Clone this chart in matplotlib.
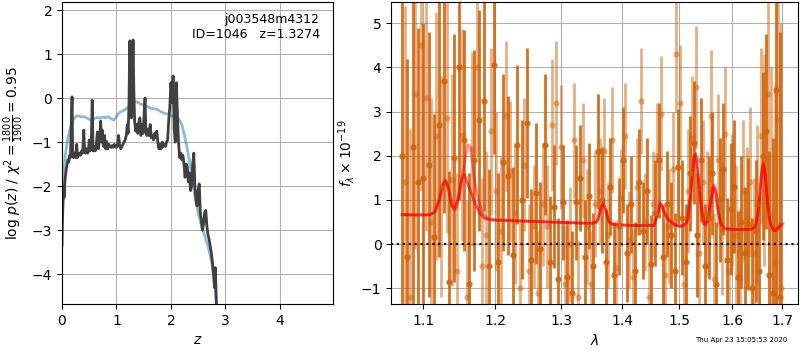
import matplotlib
matplotlib.use("Agg")
import matplotlib.pyplot as plt
from matplotlib.ticker import NullLocator

# --- redshift PDF (left panel) ---
z_pdf = [
    0.000, 0.010, 0.020, 0.030, 0.040, 0.050, 0.065, 0.080, 0.095, 0.110,
    0.125, 0.140, 0.155, 0.170, 0.185, 0.195, 0.210, 0.230, 0.250, 0.270,
    0.285, 0.300, 0.320, 0.340, 0.360, 0.380, 0.400, 0.415, 0.430, 0.450,
    0.470, 0.485, 0.500, 0.515, 0.535, 0.555, 0.570, 0.590, 0.610, 0.630,
    0.650, 0.670, 0.690, 0.710, 0.725, 0.740, 0.760, 0.780, 0.800, 0.820,
    0.840, 0.860, 0.880, 0.900, 0.920, 0.940, 0.960, 0.980, 1.000, 1.020,
    1.040, 1.060, 1.080, 1.100, 1.120, 1.140, 1.160, 1.180, 1.200, 1.215,
    1.230, 1.245, 1.260, 1.275, 1.290, 1.305, 1.320, 1.335, 1.355, 1.375,
    1.390, 1.410, 1.430, 1.450, 1.470, 1.490, 1.510, 1.525, 1.540, 1.560,
    1.580, 1.600, 1.620, 1.640, 1.660, 1.680, 1.700, 1.720, 1.740, 1.760,
    1.780, 1.800, 1.820, 1.840, 1.860, 1.880, 1.900, 1.920, 1.940, 1.960,
    1.980, 2.000, 2.020, 2.040, 2.060, 2.080, 2.100, 2.120, 2.140, 2.160,
    2.180, 2.200, 2.220, 2.240, 2.260, 2.280, 2.300, 2.320, 2.340, 2.360,
    2.380, 2.400, 2.420, 2.440, 2.460, 2.480, 2.500, 2.520, 2.540, 2.560,
    2.580, 2.600, 2.620, 2.640, 2.660, 2.680, 2.700, 2.720, 2.740, 2.760,
    2.780, 2.800, 2.815, 2.830, 2.850,
]
logp = [
    -3.35, -2.70, -2.35, -2.00, -2.25, -1.95, -1.75, -1.60, -1.50, -1.40,
    -1.45, -1.30, -1.35, -0.60, 0.03, -1.20, -1.35, -1.25, -1.35, -1.05,
    -1.35, -1.30, -1.25, -1.30, -1.20, -1.25, -0.73, -1.20, -1.25, -1.15,
    -1.25, -1.20, -0.95, -1.20, -1.15, -0.05, -1.20, -1.10, -1.20, -1.05,
    -0.77, -1.15, -0.90, -0.52, -1.00, -0.73, -1.10, -0.85, -1.15, -0.99,
    -1.15, -1.05, -1.10, -1.12, -1.08, -1.12, -1.05, -1.10, -1.12, -1.05,
    -0.85, -1.10, -1.15, -1.10, -1.05, -1.00, -0.95, -0.85, -0.60, -0.80,
    -0.10, 1.30, 0.20, -0.45, 0.30, 1.32, 0.10, -0.55, -0.75, -0.60,
    -0.80, -0.55, -0.45, -0.85, -0.60, -0.80, -0.30, 0.00, -0.75, -0.85,
    -0.70, -0.85, -0.60, -0.90, -0.85, -0.95, -0.80, -0.90, -0.75, -1.00,
    -1.15, -1.05, -1.15, -1.00, -1.10, -1.05, -1.10, -1.00, -0.95, -0.50,
    -0.20, 0.35, -0.10, 0.50, -0.70, -1.00, 0.35, -0.40, -1.00, -1.35,
    -1.25, -1.40, -1.30, -1.50, -1.80, -1.50, -1.55, -1.90, -1.70, -2.10,
    -2.00, -1.50, -1.25, -2.00, -2.30, -2.45, -2.10, -1.95, -2.60, -2.80,
    -3.00, -2.85, -2.60, -2.55, -2.90, -3.10, -3.20, -3.35, -3.50, -3.70,
    -3.95, -4.30, -3.85, -4.40, -5.20,
]
z_prior = [
    0.00, 0.03, 0.06, 0.10, 0.15, 0.20, 0.25, 0.30, 0.35, 0.40,
    0.45, 0.50, 0.55, 0.60, 0.65, 0.70, 0.75, 0.80, 0.85, 0.90,
    0.95, 1.00, 1.05, 1.10, 1.15, 1.20, 1.25, 1.30, 1.35, 1.40,
    1.45, 1.50, 1.55, 1.60, 1.65, 1.70, 1.75, 1.80, 1.85, 1.90,
    1.95, 2.00, 2.05, 2.10, 2.15, 2.20, 2.25, 2.30, 2.35, 2.40,
    2.45, 2.50, 2.55, 2.60, 2.65, 2.70, 2.75, 2.80, 2.85,
]
logp_prior = [
    -2.10, -1.70, -1.30, -0.95, -0.70, -0.50, -0.42, -0.40, -0.43, -0.42,
    -0.45, -0.48, -0.52, -0.46, -0.44, -0.45, -0.43, -0.45, -0.42, -0.47,
    -0.50, -0.42, -0.33, -0.30, -0.27, -0.22, -0.18, -0.10, -0.08, -0.10,
    -0.14, -0.16, -0.18, -0.21, -0.24, -0.24, -0.26, -0.30, -0.33, -0.35,
    -0.37, -0.40, -0.42, -0.45, -0.48, -0.60, -0.85, -1.15, -1.50, -1.90,
    -2.30, -2.60, -2.85, -3.05, -3.25, -3.45, -3.75, -4.20, -4.90,
]

# --- spectrum (right panel), two sets of extractions ---
wave_a = [
    1.072, 1.079, 1.086, 1.093, 1.100, 1.107, 1.114, 1.121, 1.128, 1.135,
    1.142, 1.149, 1.156, 1.163, 1.170, 1.177, 1.184, 1.191, 1.198, 1.205,
    1.212, 1.219, 1.226, 1.233, 1.240, 1.247, 1.254, 1.261, 1.268, 1.275,
    1.282, 1.289, 1.296, 1.303, 1.310, 1.317, 1.324, 1.331, 1.338, 1.345,
    1.352, 1.359, 1.366, 1.373, 1.380, 1.387, 1.394, 1.401, 1.408, 1.415,
    1.422, 1.429, 1.436, 1.443, 1.450, 1.457, 1.464, 1.471, 1.478, 1.485,
    1.492, 1.499, 1.506, 1.513, 1.520, 1.527, 1.534, 1.541, 1.548, 1.555,
    1.562, 1.569, 1.576, 1.583, 1.590, 1.597, 1.604, 1.611, 1.618, 1.625,
    1.632, 1.639, 1.646, 1.653, 1.660, 1.667, 1.674, 1.681, 1.688, 1.695,
]
flux_a = [
    2.00, -0.30, 2.20, 1.40, 1.50, 1.80, 0.15, 2.70, 3.70, -0.85,
    1.95, 4.00, 2.35, -0.90, 1.90, 2.80, 3.25, -0.50, 4.05, -0.40,
    1.85, 1.55, -0.25, 2.25, 1.00, 2.75, -0.35, 1.15, -0.10, 2.25,
    -0.40, 0.85, -0.80, 0.95, -0.75, -1.10, 0.95, 1.50, -0.30, 1.10,
    -0.50, 2.10, 1.00, -0.40, 1.30, -0.70, 0.40, 1.90, -0.20, 0.90,
    -0.60, 1.40, 0.30, 1.20, -0.45, 0.70, 1.90, -0.30, 0.90, 0.20,
    -0.60, 1.75, 0.60, -0.40, 1.60, 2.30, 0.20, 1.90, -0.50, 0.60,
    1.60, -0.90, 1.00, 1.70, -0.35, 0.80, 1.30, -0.75, 0.50, -0.20,
    0.45, -1.00, 0.30, -0.60, 2.00, 2.55, -0.70, -1.10, 3.50, -1.20,
]
err_a = [
    5.0, 4.5, 4.0, 3.5, 3.5, 3.0, 2.8, 3.0, 3.0, 2.5,
    2.8, 3.0, 2.5, 2.5, 2.5, 2.5, 2.5, 2.2, 2.0, 2.0,
    2.0, 1.8, 2.0, 1.8, 1.8, 1.7, 1.6, 1.6, 1.5, 1.6,
    1.5, 1.4, 1.4, 1.3, 1.3, 1.4, 1.3, 1.2, 1.3, 1.2,
    1.2, 1.3, 1.2, 1.2, 1.1, 1.2, 1.1, 1.2, 1.1, 1.1,
    1.1, 1.2, 1.1, 1.2, 1.1, 1.2, 1.3, 1.2, 1.2, 1.2,
    1.3, 1.3, 1.3, 1.3, 1.3, 1.4, 1.4, 1.4, 1.4, 1.4,
    1.4, 1.4, 1.4, 1.5, 1.4, 1.5, 1.5, 1.5, 1.5, 1.5,
    1.5, 1.6, 1.6, 1.7, 1.9, 2.2, 2.8, 3.5, 5.0, 6.0,
]
wave_b = [
    1.0755, 1.0825, 1.0895, 1.0965, 1.1035, 1.1105, 1.1175, 1.1245, 1.1315, 1.1385,
    1.1455, 1.1525, 1.1595, 1.1665, 1.1735, 1.1805, 1.1875, 1.1945, 1.2015, 1.2085,
    1.2155, 1.2225, 1.2295, 1.2365, 1.2435, 1.2505, 1.2575, 1.2645, 1.2715, 1.2785,
    1.2855, 1.2925, 1.2995, 1.3065, 1.3135, 1.3205, 1.3275, 1.3345, 1.3415, 1.3485,
    1.3555, 1.3625, 1.3695, 1.3765, 1.3835, 1.3905, 1.3975, 1.4045, 1.4115, 1.4185,
    1.4255, 1.4325, 1.4395, 1.4465, 1.4535, 1.4605, 1.4675, 1.4745, 1.4815, 1.4885,
    1.4955, 1.5025, 1.5095, 1.5165, 1.5235, 1.5305, 1.5375, 1.5445, 1.5515, 1.5585,
    1.5655, 1.5725, 1.5795, 1.5865, 1.5935, 1.6005, 1.6075, 1.6145, 1.6215, 1.6285,
    1.6355, 1.6425, 1.6495, 1.6565, 1.6635, 1.6705, 1.6775, 1.6845, 1.6915, 1.6985,
]
flux_b = [
    1.40, -1.20, 3.40, 4.50, 3.30, 0.50, 2.45, 1.30, 2.85, 1.45,
    -0.60, 2.48, -1.20, 2.15, 4.00, -0.50, 0.20, 2.55, 1.20, 0.30,
    2.90, 1.65, 0.70, -1.00, 1.80, -0.60, 0.40, -1.10, 0.90, 0.40,
    2.70, 3.20, 2.20, -0.90, 0.00, 2.35, -1.20, 1.90, 0.40, -0.90,
    0.90, 1.20, 2.10, 0.20, 2.35, -0.55, 1.05, 2.45, 0.10, -0.75,
    1.30, 3.25, 0.50, -1.20, 0.90, 2.00, 2.95, -0.70, 0.40, 1.70,
    4.30, 3.20, -0.90, 1.20, 2.40, 3.55, -0.20, 1.40, 0.70, 2.90,
    -0.80, 1.90, 0.35, 2.50, -0.60, 1.00, 0.20, -0.80, 1.20, 0.60,
    1.40, -0.20, 0.90, 2.45, 1.90, 3.40, 0.70, -0.40, 2.80, -1.00,
]
err_b = [
    4.0, 3.8, 3.5, 3.3, 3.0, 2.8, 2.8, 2.5, 2.6, 2.4,
    2.2, 2.4, 2.2, 2.2, 2.0, 2.0, 1.9, 1.9, 1.8, 1.7,
    1.7, 1.6, 1.6, 1.5, 1.5, 1.5, 1.4, 1.4, 1.4, 1.4,
    1.5, 1.4, 1.4, 1.3, 1.3, 1.3, 1.3, 1.3, 1.3, 1.2,
    1.2, 1.2, 1.2, 1.2, 1.2, 1.1, 1.1, 1.2, 1.1, 1.1,
    1.1, 1.2, 1.1, 1.2, 1.2, 1.2, 1.3, 1.2, 1.3, 1.3,
    1.3, 1.3, 1.3, 1.4, 1.4, 1.4, 1.4, 1.4, 1.4, 1.5,
    1.5, 1.5, 1.5, 1.5, 1.5, 1.5, 1.6, 1.6, 1.6, 1.6,
    1.7, 1.7, 1.8, 2.0, 2.4, 2.8, 3.3, 4.0, 5.0, 6.0,
]

# best-fit model for each extraction
model_wave_a = [
    1.072, 1.090, 1.108, 1.115, 1.121, 1.126, 1.130, 1.134, 1.138, 1.142,
    1.147, 1.152, 1.156, 1.160, 1.166, 1.172, 1.178, 1.185, 1.195, 1.250,
    1.300, 1.350, 1.358, 1.363, 1.368, 1.373, 1.378, 1.385, 1.420, 1.455,
    1.461, 1.466, 1.471, 1.478, 1.486, 1.495, 1.505, 1.515, 1.522, 1.527,
    1.531, 1.535, 1.540, 1.546, 1.552, 1.558, 1.563, 1.567, 1.572, 1.578,
    1.586, 1.600, 1.635, 1.645, 1.652, 1.657, 1.661, 1.665, 1.670, 1.676,
    1.683, 1.690, 1.697,
]
model_flux_a = [
    0.67, 0.66, 0.66, 0.72, 1.00, 1.35, 1.45, 1.25, 0.90, 0.78,
    1.00, 1.45, 1.58, 1.40, 1.15, 0.90, 0.70, 0.58, 0.55, 0.52,
    0.49, 0.47, 0.50, 0.75, 0.96, 0.75, 0.50, 0.44, 0.42, 0.42,
    0.65, 0.93, 0.80, 0.60, 0.50, 0.42, 0.40, 0.50, 1.20, 1.95,
    2.05, 1.60, 0.90, 0.45, 0.50, 0.90, 1.30, 1.25, 0.80, 0.45,
    0.35, 0.33, 0.33, 0.38, 0.80, 1.50, 1.85, 1.60, 0.90, 0.45,
    0.30, 0.35, 0.45,
]
model_wave_b = [
    1.075, 1.095, 1.110, 1.117, 1.123, 1.128, 1.131, 1.135, 1.140, 1.145,
    1.150, 1.156, 1.161, 1.165, 1.170, 1.176, 1.182, 1.190, 1.200, 1.250,
    1.300, 1.352, 1.360, 1.364, 1.368, 1.372, 1.377, 1.385, 1.420, 1.456,
    1.462, 1.467, 1.472, 1.480, 1.490, 1.500, 1.510, 1.517, 1.523, 1.528,
    1.532, 1.537, 1.543, 1.549, 1.555, 1.560, 1.565, 1.569, 1.574, 1.580,
    1.590, 1.620, 1.640, 1.648, 1.654, 1.659, 1.663, 1.667, 1.672, 1.678,
    1.686, 1.694, 1.702,
]
model_flux_b = [
    0.66, 0.66, 0.67, 0.75, 1.05, 1.38, 1.42, 1.20, 0.85, 0.80,
    1.20, 1.80, 2.25, 2.20, 1.50, 1.00, 0.70, 0.57, 0.54, 0.51,
    0.49, 0.47, 0.55, 0.80, 0.95, 0.80, 0.52, 0.45, 0.42, 0.43,
    0.70, 0.92, 0.78, 0.55, 0.45, 0.40, 0.42, 0.60, 1.40, 2.00,
    1.95, 1.40, 0.75, 0.42, 0.55, 1.00, 1.35, 1.20, 0.70, 0.42,
    0.34, 0.33, 0.34, 0.45, 1.00, 1.70, 1.80, 1.40, 0.75, 0.40,
    0.30, 0.38, 0.46,
]

wave_ticks = [1.1, 1.2, 1.3, 1.4, 1.5, 1.6, 1.7]
title_text = "j003548m4312\nID=1046   z=1.3274"
stamp_text = "Thu Apr 23 15:05:53 2020"

fig = plt.figure(figsize=(8, 3.5), dpi=100)

# left: redshift PDF
ax = fig.add_axes([0.0775, 0.131, 0.339, 0.863])
ax.plot(z_prior, logp_prior, color="tab:blue", alpha=0.5, lw=2)
ax.plot(z_pdf, logp, color="0.25", lw=2)
ax.set_xlim(0, 4.98)
ax.set_ylim(-4.68, 2.18)
ax.set_xticks([0, 1, 2, 3, 4])
ax.set_yticks([-4, -3, -2, -1, 0, 1, 2])
ax.grid()
ax.set_xlabel(r"$z$")
ax.set_ylabel(r"$\log\,p(z)$ / $\chi^2=\frac{1800}{1900}=0.95$")
ax.text(0.95, 0.965, title_text, ha="right", va="top",
        transform=ax.transAxes, fontsize=9, linespacing=1.2)

# right: spectrum
axc = fig.add_axes([0.489, 0.131, 0.5085, 0.863])
orange = (0.82, 0.39, 0.04)
axc.errorbar(wave_b, flux_b, err_b, color=orange, alpha=0.5, marker="o",
             ms=4.5, linestyle="None", elinewidth=2, mec="none")
axc.errorbar(wave_a, flux_a, err_a, color=orange, alpha=0.9, marker="o",
             ms=4.5, linestyle="None", elinewidth=2, mec="none")
axc.plot(model_wave_b, model_flux_b, color="r", alpha=0.45, lw=2)
axc.plot(model_wave_a, model_flux_a, color="r", alpha=0.65, lw=2)
axc.axhline(0, color="k", linestyle=":", lw=1.6, alpha=0.9)

axc.set_xscale("log")
axc.set_xlim(1.058, 1.733)
axc.set_ylim(-1.36, 5.48)
axc.set_xticks(wave_ticks)
axc.set_xticklabels([f"{w:.1f}" for w in wave_ticks])
axc.xaxis.set_minor_locator(NullLocator())
axc.set_yticks([-1, 0, 1, 2, 3, 4, 5])
axc.grid()
axc.set_xlabel(r"$\lambda$")
axc.set_ylabel(r"$f_\lambda\times10^{-19}$", labelpad=3)

fig.text(0.984, 0.02, stamp_text, ha="right", va="bottom", fontsize=5)

fig.savefig("out.png", dpi=100)
